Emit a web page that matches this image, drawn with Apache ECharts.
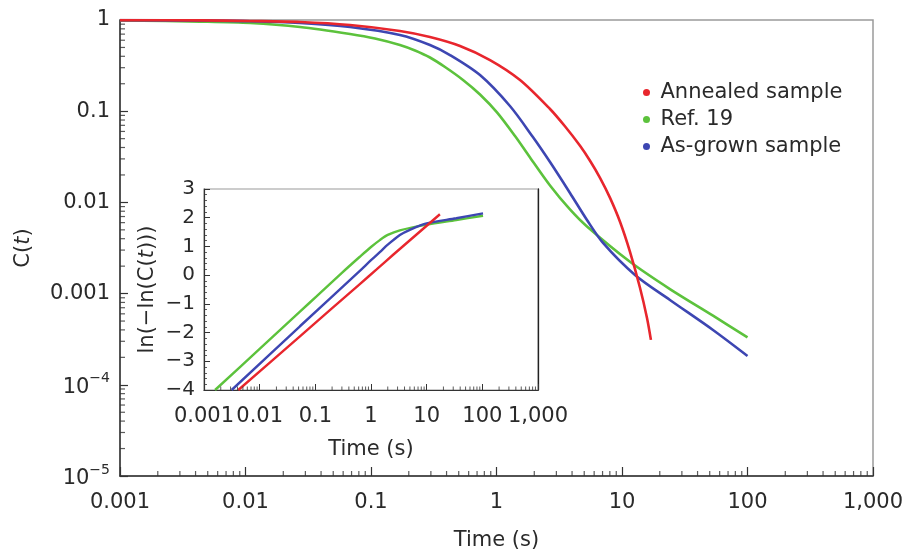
<!DOCTYPE html>
<html>
<head>
<meta charset="utf-8">
<script src="https://cdn.jsdelivr.net/npm/echarts@6/dist/echarts.min.js"></script>
<style>
html,body{margin:0;padding:0;background:#fff;}
#chart{width:904px;height:552px;}
</style>
</head>
<body>
<div id="chart"></div>
<script>
// ---- Data ----
const seriesNames = ['Annealed sample', 'Ref. 19', 'As-grown sample'];
const seriesColors = ['#e8262d', '#5cc23c', '#3d46b2'];

// Main panel: C(t) vs time (s)
const annealedT = [0.001, 0.00434, 0.0109, 0.0272, 0.0681, 0.170, 0.295, 0.512, 0.888, 1.54, 2.67, 3.51, 4.63, 5.56, 6.68, 8.03, 9.64, 11.58, 13.91, 15.82, 17.0];
const annealedC = [0.998, 0.99, 0.975, 0.951, 0.882, 0.7575, 0.651, 0.519, 0.364, 0.220, 0.1057, 0.0683, 0.0417, 0.0286, 0.0186, 0.0112, 0.00613, 0.00287, 0.00116, 0.000541, 0.000311];

const refT = [0.001, 0.00434, 0.0109, 0.0272, 0.0681, 0.1076, 0.170, 0.2242, 0.295, 0.3887, 0.541, 0.739, 1.009, 1.40, 1.85, 2.67, 3.85, 5.26, 11.58, 24.1, 53.1, 100];
const refC = [0.99, 0.96, 0.927, 0.838, 0.702, 0.627, 0.532, 0.463, 0.388, 0.305, 0.220, 0.1524, 0.0970, 0.0537, 0.0311, 0.01532, 0.00836, 0.00544, 0.00223, 0.00112, 0.000572, 0.000331];

const asGrownT = [0.001, 0.00434, 0.0109, 0.0272, 0.0681, 0.170, 0.295, 0.426, 0.739, 1.28, 1.95, 2.67, 3.85, 5.26, 7.06, 12.69, 24.1, 53.1, 100];
const asGrownC = [0.998, 0.985, 0.97, 0.927, 0.838, 0.685, 0.532, 0.413, 0.249, 0.114, 0.0521, 0.0277, 0.0127, 0.00641, 0.00359, 0.00160, 0.000851, 0.000399, 0.000207];

// Inset: ln(-ln(C(t))) vs time (s)
const insetAnnealedT = [0.00413, 0.0529, 0.63, 1.26, 2.5, 10, 17.3];
const insetAnnealedY = [-4, -2.13, -0.31, 0.2, 0.71, 1.72, 2.12];

const insetRefT = [0.00158, 0.0101, 0.0529, 0.105, 0.3, 0.63, 1.0, 1.44, 2.0, 3.3, 10, 34, 103];
const insetRefY = [-4, -2.56, -1.27, -0.74, 0.08, 0.64, 0.98, 1.22, 1.40, 1.56, 1.76, 1.92, 2.07];

const insetAsGrownT = [0.00314, 0.0529, 0.63, 1.0, 1.44, 2.0, 3.3, 5.0, 10, 34, 103];
const insetAsGrownY = [-4, -1.78, 0.15, 0.52, 0.80, 1.06, 1.40, 1.58, 1.80, 1.98, 2.15];

// Tick labels
const xTickLabels = ['0.001', '0.01', '0.1', '1', '10', '100', '1,000'];     // decades 10^-3 .. 10^3
const yTickLabels = ['1', '0.1', '0.01', '0.001', '{b|10}{s|\u22124}', '{b|10}{s|\u22125}']; // 10^0 .. 10^-5
const insetYTickLabels = ['\u22124', '\u22123', '\u22122', '\u22121', '0', '1', '2', '3'];

// ---- helpers ----
const FONT = 'DejaVu Sans';
const FW = 'normal';
const TXT = '#2a2a2a';
const AX = '#333';
function pairs(xs, ys) { return xs.map((x, i) => [x, ys[i]]); }
function xLabel(v) { return xTickLabels[Math.round(Math.log10(v)) + 3]; }

// minor tick positions (2..9 within each decade)
function minorDecadeValues(kFrom, kTo) {
  const out = [];
  for (let k = kFrom; k <= kTo; k++) for (let m = 2; m <= 9; m++) out.push(+(m * Math.pow(10, k)).toPrecision(6));
  return out;
}
const mainXMinor = minorDecadeValues(-3, 2).map(v => [v, 1e-5]);
const mainYMinor = minorDecadeValues(-5, -1).map(v => [0.001, v]);
const insetXMinor = minorDecadeValues(-3, 2).map(v => [v, -4]);

const chart = echarts.init(document.getElementById('chart'), null, { renderer: 'canvas' });

const lineSeries = (name, color, data, xi, yi, w) => ({
  name, type: 'line', data, xAxisIndex: xi, yAxisIndex: yi,
  showSymbol: false, symbol: 'circle', smooth: 0.3, silent: true,
  lineStyle: { color, width: w }, itemStyle: { color }, z: 5
});
const txt = (size) => ({ fontSize: size, color: TXT, fontFamily: FONT, fontWeight: FW });

const option = {
  backgroundColor: '#fff',
  animation: false,
  textStyle: { fontFamily: FONT },
  legend: {
    data: seriesNames.map((n, i) => ({ name: n, itemStyle: { color: seriesColors[i] } })),
    orient: 'vertical',
    left: 638, top: 77,
    icon: 'circle',
    itemWidth: 18, itemHeight: 7, itemGap: 6,
    selectedMode: false,
    textStyle: Object.assign(txt(21), { lineHeight: 21 })
  },
  grid: [
    { left: 120, top: 20, right: 31, bottom: 76, show: true, borderColor: '#9a9a9a', borderWidth: 1.5,
      backgroundColor: 'transparent', z: 0, containLabel: false, outerBoundsMode: 'none' },
    { left: 204, top: 189, width: 334, height: 201, show: true, borderColor: '#9a9a9a', borderWidth: 1.2,
      backgroundColor: '#fff', z: 3, containLabel: false, outerBoundsMode: 'none' }
  ],
  xAxis: [
    {
      type: 'log', logBase: 10, min: 0.001, max: 1000, gridIndex: 0, position: 'bottom',
      name: 'Time (s)', nameLocation: 'middle', nameGap: 54,
      nameTextStyle: txt(21),
      axisLine: { show: true, onZero: false, lineStyle: { color: AX, width: 1.5 } },
      axisTick: { show: true, inside: true, length: 9, lineStyle: { color: AX, width: 1.2 } },
      axisLabel: Object.assign(txt(21), { formatter: xLabel, margin: 16 }),
      splitLine: { show: false }
    },
    {
      type: 'log', logBase: 10, min: 0.001, max: 1000, gridIndex: 1, position: 'bottom',
      name: 'Time (s)', nameLocation: 'middle', nameGap: 49,
      nameTextStyle: txt(21),
      axisLine: { show: true, onZero: false, lineStyle: { color: AX, width: 1.2 } },
      axisTick: { show: true, inside: true, length: 6, lineStyle: { color: AX, width: 1 } },
      axisLabel: Object.assign(txt(21), { formatter: xLabel, margin: 16 }),
      splitLine: { show: false }, z: 4
    }
  ],
  yAxis: [
    {
      type: 'log', logBase: 10, min: 1e-5, max: 1, gridIndex: 0, position: 'left',
      name: 'C({i|t})', nameLocation: 'middle', nameGap: 86, nameRotate: 90,
      nameTextStyle: Object.assign(txt(21), { rich: { i: Object.assign(txt(21), { fontStyle: 'italic' }) } }),
      axisLine: { show: true, onZero: false, lineStyle: { color: AX, width: 1.5 } },
      axisTick: { show: true, inside: true, length: 8, lineStyle: { color: AX, width: 1.2 } },
      axisLabel: Object.assign(txt(21), {
        margin: 10,
        formatter: v => yTickLabels[-Math.round(Math.log10(v))],
        rich: {
          b: Object.assign(txt(21), { lineHeight: 26, verticalAlign: 'bottom' }),
          s: Object.assign(txt(14), { lineHeight: 26, verticalAlign: 'top' })
        }
      }),
      splitLine: { show: false }
    },
    {
      type: 'value', min: -4, max: 3, interval: 1, gridIndex: 1, position: 'left',
      name: 'ln(\u2212ln(C({i|t})))', nameLocation: 'middle', nameGap: 46, nameRotate: 90,
      nameTextStyle: Object.assign(txt(21), { rich: { i: Object.assign(txt(21), { fontStyle: 'italic' }) } }),
      axisLine: { show: true, onZero: false, lineStyle: { color: AX, width: 1.2 } },
      axisTick: { show: true, inside: true, length: 6, lineStyle: { color: AX, width: 1 } },
      minorTick: { show: true, splitNumber: 5, length: 3, lineStyle: { color: AX, width: 0.8 } },
      axisLabel: Object.assign(txt(20), { margin: 9, formatter: v => insetYTickLabels[Math.round(v) + 4] }),
      splitLine: { show: false }, z: 4
    },
    {
      type: 'value', min: -4, max: 3, gridIndex: 1, position: 'right',
      axisLine: { show: true, onZero: false, lineStyle: { color: '#222', width: 1.3 } },
      axisTick: { show: false }, axisLabel: { show: false }, splitLine: { show: false }, z: 4
    }
  ],
  series: [
    lineSeries(seriesNames[1], seriesColors[1], pairs(refT, refC), 0, 0, 2.6),
    lineSeries(seriesNames[2], seriesColors[2], pairs(asGrownT, asGrownC), 0, 0, 2.6),
    lineSeries(seriesNames[0], seriesColors[0], pairs(annealedT, annealedC), 0, 0, 2.6),
    lineSeries(seriesNames[1], seriesColors[1], pairs(insetRefT, insetRefY), 1, 1, 2.4),
    lineSeries(seriesNames[2], seriesColors[2], pairs(insetAsGrownT, insetAsGrownY), 1, 1, 2.4),
    lineSeries(seriesNames[0], seriesColors[0], pairs(insetAnnealedT, insetAnnealedY), 1, 1, 2.4),
    { type: 'scatter', xAxisIndex: 0, yAxisIndex: 0, data: mainXMinor, symbol: 'rect',
      symbolSize: [1.2, 5], symbolOffset: [0, -2.5], itemStyle: { color: AX }, silent: true, clip: false, z: 6 },
    { type: 'scatter', xAxisIndex: 0, yAxisIndex: 0, data: mainYMinor, symbol: 'rect',
      symbolSize: [5, 1.2], symbolOffset: [2.5, 0], itemStyle: { color: AX }, silent: true, clip: false, z: 6 },
    { type: 'scatter', xAxisIndex: 1, yAxisIndex: 1, data: insetXMinor, symbol: 'rect',
      symbolSize: [1, 3.5], symbolOffset: [0, -1.75], itemStyle: { color: AX }, silent: true, clip: false, z: 6 }
  ]
};
chart.setOption(option);
</script>
</body>
</html>
